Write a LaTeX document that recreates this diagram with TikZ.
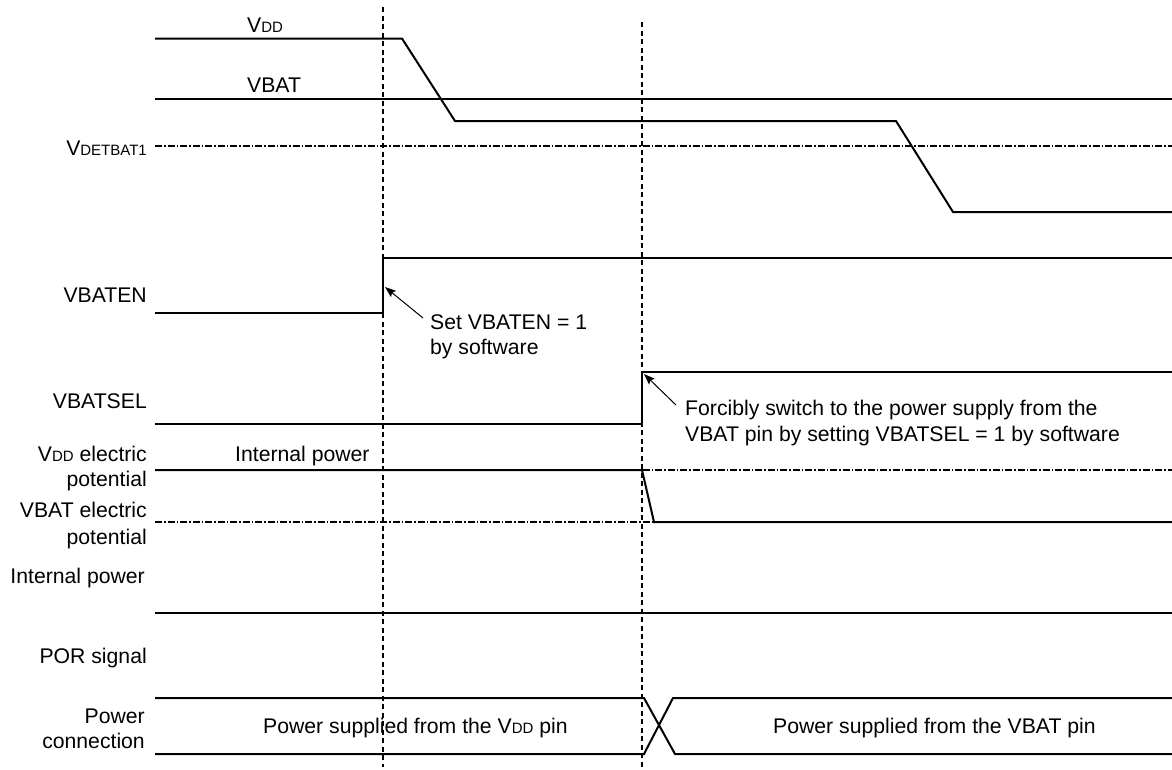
\documentclass[tikz,border=0pt]{standalone}
\usepackage{fontspec}
\setmainfont{Liberation Sans}
\usetikzlibrary{arrows.meta}
\newcommand\smc[1]{{\fontsize{15}{15}\selectfont #1}}
\begin{document}
\begin{tikzpicture}[x=1pt,y=-1pt,
  wave/.style={line width=2pt, line join=miter},
  guide/.style={line width=1.8pt, dash pattern=on 5pt off 3.5pt},
  level/.style={line width=1.8pt, dash pattern=on 7pt off 2pt on 1.5pt off 2pt},
  note/.style={line width=1pt, -{Stealth[length=11pt,width=8pt,inset=2pt]}},
  lbl/.style={anchor=base east, inner sep=0pt, font=\fontsize{21.2}{26}\selectfont},
  txt/.style={anchor=base west, inner sep=0pt, font=\fontsize{21.2}{26}\selectfont}]
\useasboundingbox (0,0) rectangle (1172,769);

% guide lines
\coordinate (g1t) at (383,7);   \coordinate (g1b) at (383,767);
\coordinate (g2t) at (642,22);  \coordinate (g2b) at (642,767);

% reference levels (dash-dot)
\draw[level] (155,146) -- (1172,146);
\draw[level] (155,470) -- (1172,470);
\draw[level] (155,522) -- (1172,522);

% VDD and VBAT
\draw[wave] (155,38.5) -- (402,38.5) -- (455,121) -- (896,121) -- (953,212) -- (1172,212);
\draw[wave] (155,99) -- (1172,99);

% VBATEN
\draw[wave] (155,313) -- (383,313) -- (383,258) -- (1172,258);
% VBATSEL
\draw[wave] (155,424) -- (642,424) -- (642,372) -- (1172,372);
% internal power
\draw[wave] (155,470) -- (642,470) -- (654,522) -- (1172,522);
% POR signal
\draw[wave] (155,613) -- (1172,613);
% power connection
\draw[wave] (155,698) -- (644,698) -- (675,754) -- (1172,754);
\draw[wave] (155,754) -- (644,754) -- (673,698) -- (1172,698);

\draw[guide] (g1t) -- (g1b);
\draw[guide] (g2t) -- (g2b);

% wave labels
\node[txt] (tvdd) at (247,32) {V\smc{DD}};
\node[txt] (tvbat) at (247,92) {VBAT};
\node[lbl] (ldet) at (147,155.5) {V\smc{DETBAT1}};
\node[lbl] (len) at (147,302) {VBATEN};
\node[lbl] (lsel) at (147,408) {VBATSEL};
\node[lbl] (lvdd1) at (147,461) {V\smc{DD} electric};
\node[lbl] (lvdd2) at (147,486) {potential};
\node[lbl] (lvb1) at (147,517) {VBAT electric};
\node[lbl] (lvb2) at (147,544) {potential};
\node[lbl] (lint) at (145,583) {Internal power};
\node[lbl] (lpor) at (147,663) {POR signal};
\node[lbl] (lpc1) at (145,723) {Power};
\node[lbl] (lpc2) at (145,748) {connection};
\node[txt] (tint) at (235,461) {Internal power};

% annotations
\node[txt] (n1a) at (430,329) {Set VBATEN = 1};
\node[txt] (n1b) at (430,354) {by software};
\node[txt] (n2a) at (685,415) {Forcibly switch to the power supply from the};
\node[txt] (n2b) at (685,441) {VBAT pin by setting VBATSEL = 1 by software};
\coordinate (a1s) at (423,318); \coordinate (a1e) at (385,287);
\coordinate (a2s) at (676,405); \coordinate (a2e) at (644,374);
\draw[note] (a1s) -- (a1e);
\draw[note] (a2s) -- (a2e);

% power connection texts
\node[txt] (pc1) at (263,733) {Power supplied from the V\smc{DD} pin};
\node[txt] (pc2) at (773,733) {Power supplied from the VBAT pin};
\end{tikzpicture}
\end{document}
